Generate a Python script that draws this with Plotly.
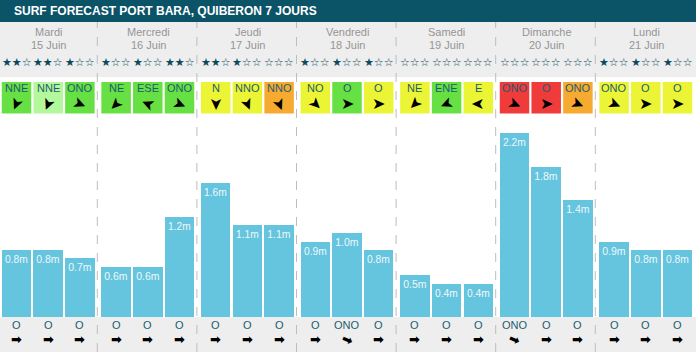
import plotly.graph_objects as go

W, H = 696, 352

title = "SURF FORECAST PORT BARA, QUIBERON 7 JOURS"
days = ["Mardi", "Mercredi", "Jeudi", "Vendredi", "Samedi", "Dimanche", "Lundi"]
dates = ["15 Juin", "16 Juin", "17 Juin", "18 Juin", "19 Juin", "20 Juin", "21 Juin"]
stars = [[2, 2, 1], [1, 1, 2], [2, 1, 0], [1, 1, 1], [0, 0, 0], [0, 0, 0], [1, 1, 1]]
wind_dir = [["NNE", "NNE", "ONO"], ["NE", "ESE", "ONO"], ["N", "NNO", "NNO"],
            ["NO", "O", "O"], ["NE", "ENE", "E"], ["ONO", "O", "ONO"], ["ONO", "O", "O"]]
wind_level = [["g", "lg", "g"], ["g", "g", "g"], ["y", "y", "o"],
              ["y", "g", "y"], ["y", "g", "y"], ["r", "r", "o"], ["y", "y", "y"]]
waves = [[0.8, 0.8, 0.7], [0.6, 0.6, 1.2], [1.6, 1.1, 1.1], [0.9, 1.0, 0.8],
         [0.5, 0.4, 0.4], [2.2, 1.8, 1.4], [0.9, 0.8, 0.8]]
swell_dir = [["O", "O", "O"], ["O", "O", "O"], ["O", "O", "O"], ["O", "ONO", "O"],
             ["O", "O", "O"], ["ONO", "O", "O"], ["O", "O", "O"]]

COMPASS = {"N": 0, "NNE": 22.5, "NE": 45, "ENE": 67.5, "E": 90, "ESE": 112.5, "SE": 135,
           "SSE": 157.5, "S": 180, "SSO": 202.5, "SO": 225, "OSO": 247.5, "O": 270,
           "ONO": 292.5, "NO": 315, "NNO": 337.5}
LEVEL_COLORS = {"g": "#66e043", "lg": "#b3f99b", "y": "#ebf535", "o": "#f6aa30", "r": "#f03b3b"}

TEAL_DARK = "#0b5468"
TEXT_TEAL = "#1d5c70"
GRAY_BG = "#eeeeee"
BAR_COLOR = "#65c4de"
FONT = "Liberation Sans, Arial, sans-serif"

DAY_W = 99.6
SLOT_W = 31.7
BAR_W = 29.5
PX_PER_M = 83.6
BASE = 317  # pixel y of bar baseline


def cx(d, s):
    return 16.5 + d * DAY_W + s * SLOT_W


def py(p):
    return 1 - p / H


def txt(text, x, y, size, color, family=FONT, **kw):
    d = dict(text=text, x=x, y=py(y), xref="x", yref="paper", xanchor="center",
             yanchor="middle", showarrow=False, font=dict(color=color, size=size, family=family))
    d.update(kw)
    return d


xs, ys, labels = [], [], []
for d in range(7):
    for s in range(3):
        xs.append(cx(d, s))
        ys.append(waves[d][s])
        labels.append(f"{waves[d][s]:.1f}m")

fig = go.Figure()
fig.add_trace(go.Bar(
    x=xs, y=ys, width=BAR_W, marker=dict(color=BAR_COLOR, line=dict(width=0)),
    text=labels, textposition="inside", insidetextanchor="end",
    insidetextfont=dict(color="#eef8fb", size=10.5, family=FONT),
    textangle=0, hoverinfo="skip", cliponaxis=False,
))

shapes = []
ann = []
# Title bar
shapes.append(dict(type="rect", xref="paper", yref="paper", x0=0, x1=1, y0=py(22), y1=1,
                   fillcolor=TEAL_DARK, line=dict(width=0), layer="below"))
ann.append(txt("<b>" + title + "</b>", 12, 11, 12, "white", xanchor="left"))
# Header gray
shapes.append(dict(type="rect", xref="paper", yref="paper", x0=0, x1=1, y0=py(77), y1=py(22),
                   fillcolor=GRAY_BG, line=dict(width=0), layer="below"))
# Bottom gray
shapes.append(dict(type="rect", xref="paper", yref="paper", x0=0, x1=1, y0=0, y1=py(BASE),
                   fillcolor=GRAY_BG, line=dict(width=0), layer="below"))
# Separators
for d in range(1, 7):
    xsep = 97.3 + (d - 1) * DAY_W
    shapes.append(dict(type="line", xref="x", yref="paper", x0=xsep, x1=xsep, y0=0, y1=py(22),
                       line=dict(color="#bdbdbd", width=1, dash="dash"), layer="below"))

for d in range(7):
    dc = 48.5 + d * DAY_W
    ann.append(txt(days[d], dc, 32, 11, "#959595"))
    ann.append(txt(dates[d], dc, 44.5, 11, "#959595"))
    for s in range(3):
        x = cx(d, s)
        n = stars[d][s]
        ann.append(txt("★" * n + "☆" * (3 - n), x, 62, 11, "#0c4a5e", family="DejaVu Sans"))
        shapes.append(dict(type="rect", xref="x", yref="paper", x0=x - BAR_W / 2, x1=x + BAR_W / 2,
                           y0=py(113.5), y1=py(82), fillcolor=LEVEL_COLORS[wind_level[d][s]],
                           line=dict(width=0), layer="below"))
        ann.append(txt(wind_dir[d][s], x, 88, 11, TEXT_TEAL))
        wang = (COMPASS[wind_dir[d][s]] + 180) % 360 - 90
        ann.append(txt("➤", x, 104, 16, "black", family="DejaVu Sans", textangle=wang))
        ann.append(txt(swell_dir[d][s], x, 324.5, 11, TEXT_TEAL))
        ang = (COMPASS[swell_dir[d][s]] + 180) % 360 - 90
        ann.append(txt("<b>➡</b>", x, 339.5, 13, "black", family="DejaVu Sans", textangle=ang))

fig.update_layout(
    width=W, height=H, margin=dict(l=0, r=0, t=0, b=0),
    paper_bgcolor="white", plot_bgcolor="rgba(0,0,0,0)",
    showlegend=False, bargap=0,
    xaxis=dict(range=[0, W], visible=False, fixedrange=True),
    yaxis=dict(domain=[py(BASE), 1], range=[0, BASE / PX_PER_M], visible=False, fixedrange=True),
    shapes=shapes, annotations=ann,
    font=dict(family=FONT),
)

fig.write_html("out.html")
